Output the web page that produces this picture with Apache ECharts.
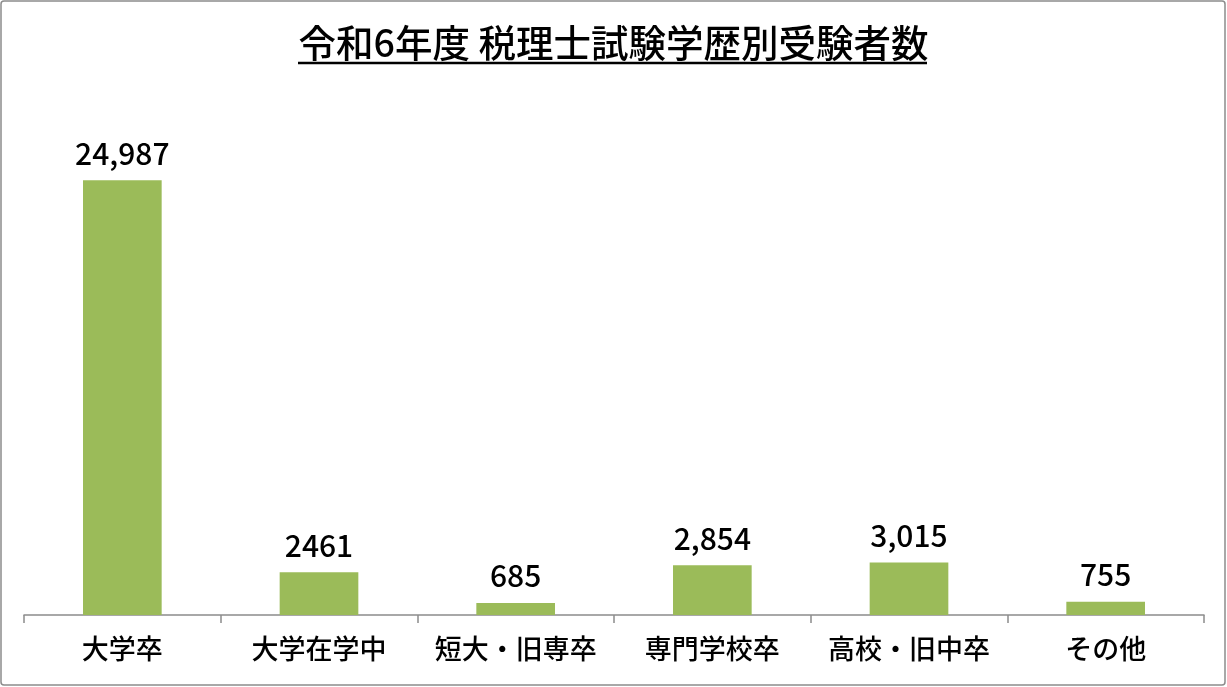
<!DOCTYPE html>
<html>
<head>
<meta charset="utf-8">
<script src="https://cdn.jsdelivr.net/npm/echarts@6/dist/echarts.min.js"></script>
<style>
  html, body { margin: 0; padding: 0; background: #fff; }
  #main { width: 1227px; height: 687px; }
</style>
</head>
<body>
<div id="main"></div>
<script>
// 学歴別の区分と受験者数
const categories = ['大学卒', '大学在学中', '短大・旧専卒', '専門学校卒', '高校・旧中卒', 'その他'];
const values = [24987, 2461, 685, 2854, 3015, 755];
// 元の図の表記そのまま（2461だけカンマなし）
const valueLabels = ['24,987', '2461', '685', '2,854', '3,015', '755'];

const font = '"Noto Sans CJK JP", "Noto Sans", sans-serif';

const chart = echarts.init(document.getElementById('main'));

const option = {
  backgroundColor: '#ffffff',
  animation: false,
  title: {
    text: '令和6年度 税理士試験学歴別受験者数',
    left: 'center',
    top: 19,
    textStyle: {
      fontFamily: font,
      fontSize: 37.5,
      fontWeight: 500,
      color: '#000'
    }
  },
  graphic: [
    {
      type: 'rect',
      shape: { x: 1, y: 1, width: 1224, height: 684, r: 3 },
      style: { fill: 'none', stroke: '#8c8c8c', lineWidth: 1.5 },
      silent: true
    },
    {
      type: 'line',
      shape: { x1: 298, y1: 63, x2: 927, y2: 63 },
      style: { stroke: '#000', lineWidth: 2.5 },
      silent: true
    }
  ],
  grid: {
    left: 24,
    right: 23,
    top: 93,
    bottom: 72
  },
  xAxis: {
    type: 'category',
    data: categories,
    axisLine: { lineStyle: { color: '#8c8c8c', width: 1.5 } },
    axisTick: { show: true, length: 8, lineStyle: { color: '#8c8c8c', width: 1.5 } },
    axisLabel: {
      interval: 0,
      fontFamily: font,
      fontSize: 27,
      fontWeight: 500,
      color: '#000',
      margin: 20
    }
  },
  yAxis: {
    type: 'value',
    min: 0,
    max: 30000,
    show: false,
    splitLine: { show: false }
  },
  series: [{
    type: 'bar',
    data: values,
    barWidth: '40%',
    itemStyle: { color: '#9bbb59' },
    label: {
      show: true,
      position: 'top',
      distance: 12,
      fontFamily: font,
      fontSize: 30,
      fontWeight: 500,
      color: '#000',
      formatter: p => valueLabels[p.dataIndex]
    }
  }]
};

chart.setOption(option);
</script>
</body>
</html>
